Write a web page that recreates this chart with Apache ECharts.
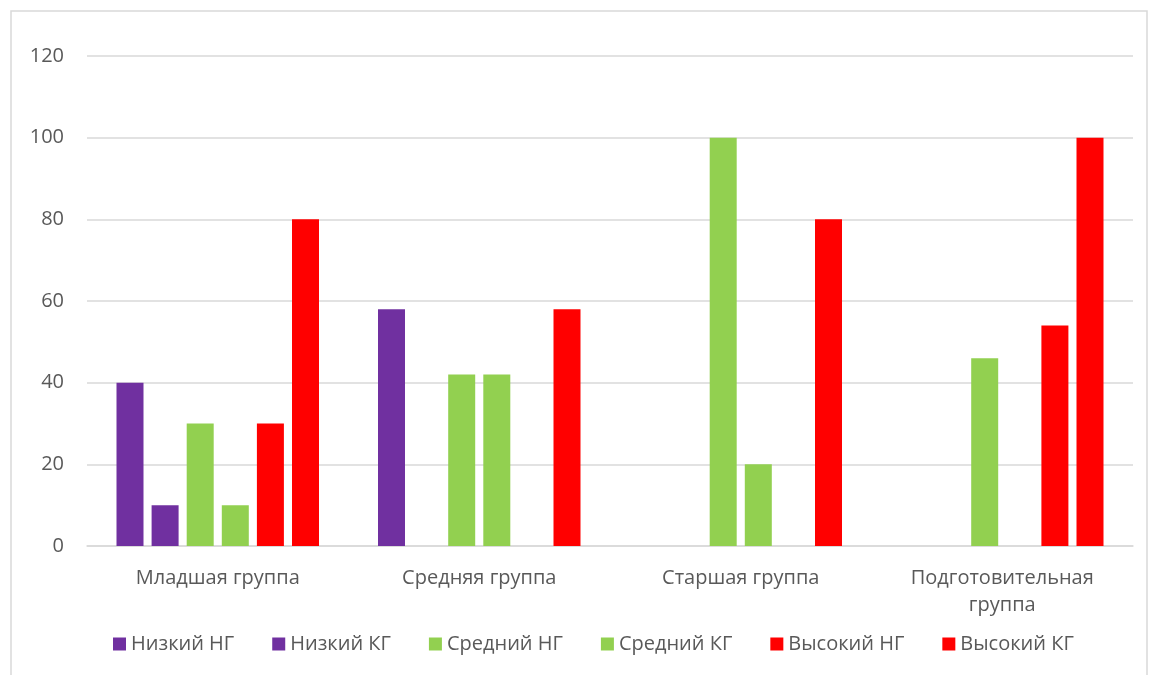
<!DOCTYPE html>
<html>
<head>
<meta charset="utf-8">
<script src="https://cdn.jsdelivr.net/npm/echarts@6/dist/echarts.min.js"></script>
<style>html,body{margin:0;padding:0;background:#fff;}#c{width:1150px;height:675px;}</style>
</head>
<body>
<div id="c"></div>
<script>
const categories = ['Младшая группа', 'Средняя группа', 'Старшая группа', 'Подготовительная группа'];
const seriesNames = ['Низкий НГ', 'Низкий КГ', 'Средний НГ', 'Средний КГ', 'Высокий НГ', 'Высокий КГ'];
const lowNG = [40, 58, 0, 0];
const lowKG = [10, 0, 0, 0];
const midNG = [30, 42, 100, 46];
const midKG = [10, 42, 20, 0];
const highNG = [30, 0, 0, 54];
const highKG = [80, 58, 80, 100];
const seriesValues = [lowNG, lowKG, midNG, midKG, highNG, highKG];
const colors = ['#7030A0', '#7030A0', '#92D050', '#92D050', '#FF0000', '#FF0000'];

const chart = echarts.init(document.getElementById('c'));
const font = 'Open Sans, Noto Sans, sans-serif';
chart.setOption({
  animation: false,
  graphic: [{
    type: 'rect', shape: {x: 11, y: 11, width: 1136, height: 680},
    style: {fill: 'none', stroke: '#d9d9d9', lineWidth: 1.5}, silent: true
  }],
  legend: {
    top: 629, left: 108,
    itemWidth: 13, itemHeight: 13, itemGap: 38,
    icon: 'rect',
    textStyle: {color: '#595959', fontSize: 20, fontFamily: font},
    data: seriesNames
  },
  grid: {left: 87, right: 17, top: 56, bottom: 129},
  xAxis: {
    type: 'category', data: categories,
    axisLine: {lineStyle: {color: '#d9d9d9', width: 1.5}},
    axisTick: {show: false},
    axisLabel: {
      color: '#595959', fontSize: 20, fontFamily: font, margin: 19, lineHeight: 27,
      formatter: v => v.length > 20 ? v.replace(' ', '\n') : v
    }
  },
  yAxis: {
    type: 'value', min: 0, max: 120, interval: 20,
    axisLine: {show: false}, axisTick: {show: false},
    axisLabel: {color: '#595959', fontSize: 20, fontFamily: font, margin: 23},
    splitLine: {lineStyle: {color: '#d9d9d9', width: 1.5}}
  },
  series: seriesNames.map((n, i) => ({
    name: n, type: 'bar', data: seriesValues[i],
    barWidth: 27, barGap: '30%',
    itemStyle: {color: colors[i]}
  }))
});
</script>
</body>
</html>
